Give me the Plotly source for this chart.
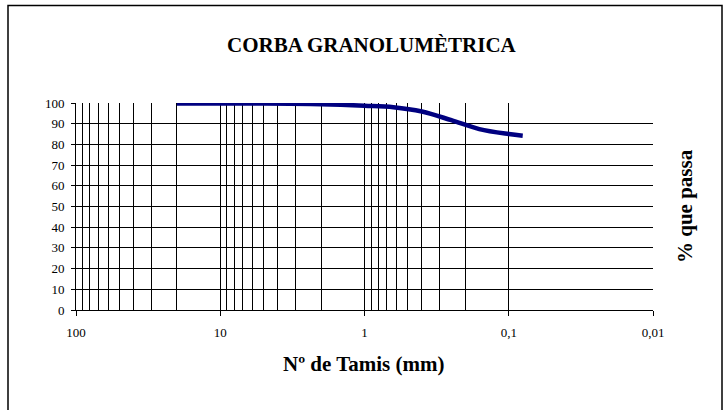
import plotly.graph_objects as go

# Data
sieve_mm = [20, 10, 5, 2, 1, 0.63, 0.4, 0.25, 0.16, 0.1, 0.08]
pct_pass = [99.7, 99.7, 99.7, 99.4, 98.7, 98.0, 95.9, 91.7, 87.4, 85.0, 84.2]

x_tick_vals = [100, 10, 1, 0.1, 0.01]
x_tick_text = ["100", "10", "1", "0,1", "0,01"]
x_grid_vals = [m * d for d in [10, 1, 0.1] for m in [9, 8, 7, 6, 5, 4, 3, 2]] + [10, 1, 0.1]
y_tick_vals = list(range(0, 101, 10))
y_grid_vals = list(range(10, 100, 10))

W, H = 728, 410
L, R, T, B = 76, 75, 103, 100
pw, ph = W - L - R, H - T - B

def px_x(x):
    return (x - L) / pw

def px_y(y):
    return (H - B - y) / ph

FONT = "Liberation Serif, Times New Roman, serif"

fig = go.Figure()
fig.add_trace(go.Scatter(
    x=sieve_mm, y=pct_pass, mode="lines",
    line=dict(color="#000080", width=4.5, shape="spline", smoothing=1),
    hoverinfo="x+y", showlegend=False,
))

fig.update_layout(
    width=W, height=H,
    margin=dict(l=L, r=R, t=T, b=B),
    paper_bgcolor="white", plot_bgcolor="white",
    font=dict(family=FONT, color="black"),
    showlegend=False,
    xaxis=dict(
        type="log", range=[2, -2],
        tickvals=x_tick_vals, ticktext=x_tick_text,
        showgrid=False, zeroline=False,
        showline=True, linecolor="black", linewidth=1,
        ticks="outside", ticklen=5, tickcolor="black",
        tickfont=dict(family=FONT, size=13, color="black"),
        ticklabelstandoff=5,
        minor=dict(tickvals=x_grid_vals, showgrid=True, gridcolor="black", gridwidth=1, ticks=""),
    ),
    yaxis=dict(
        range=[0, 100],
        tickvals=y_tick_vals,
        showgrid=False, zeroline=False,
        showline=True, linecolor="black", linewidth=1,
        ticks="outside", ticklen=4, tickcolor="black",
        tickfont=dict(family=FONT, size=13, color="black"),
        ticklabelstandoff=4,
        minor=dict(tickvals=y_grid_vals, showgrid=True, gridcolor="black", gridwidth=1, ticks=""),
    ),
    annotations=[
        dict(text="<b>CORBA GRANOLUMÈTRICA</b>", xref="paper", yref="paper",
             x=px_x(371.5), y=px_y(45), xanchor="center", yanchor="middle",
             showarrow=False, font=dict(family=FONT, size=21, color="black")),
        dict(text="<b>Nº de Tamis (mm)</b>", xref="paper", yref="paper",
             x=px_x(364), y=px_y(364), xanchor="center", yanchor="middle",
             showarrow=False, font=dict(family=FONT, size=21, color="black")),
        dict(text="<b>% que passa</b>", xref="paper", yref="paper",
             x=px_x(685), y=px_y(206), xanchor="center", yanchor="middle",
             textangle=-90, showarrow=False, font=dict(family=FONT, size=21, color="black")),
    ],
    shapes=[
        dict(type="rect", xref="paper", yref="paper",
             x0=px_x(8), x1=px_x(722), y0=px_y(414), y1=px_y(5.5),
             line=dict(color="black", width=1.5), fillcolor="rgba(0,0,0,0)", layer="below"),
    ],
)

fig.write_html(
    "out.html",
    config={"displayModeBar": False},
    post_script="document.body.style.margin='0';document.body.style.overflow='hidden';",
)
